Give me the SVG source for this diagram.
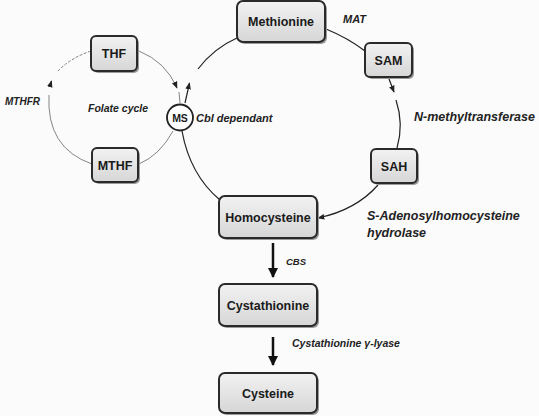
<svg xmlns="http://www.w3.org/2000/svg" width="539" height="416" viewBox="0 0 539 416">
<defs>
<linearGradient id="g" x1="0" y1="0" x2="0" y2="1">
<stop offset="0" stop-color="#f2f2f2"/>
<stop offset="1" stop-color="#d6d6d6"/>
</linearGradient>
<marker id="ah" viewBox="0 0 10 10" refX="9" refY="5" markerWidth="7" markerHeight="7" orient="auto" markerUnits="userSpaceOnUse">
<path d="M0,1 L10,5 L0,9 z" fill="#222"/>
</marker>
<marker id="ahb" viewBox="0 0 10 10" refX="9" refY="5" markerWidth="10" markerHeight="10" orient="auto" markerUnits="userSpaceOnUse">
<path d="M0,0 L10,5 L0,10 z" fill="#111"/>
</marker>
</defs>
<style>
.box rect.b{fill:url(#g);stroke:#2a2a2a;stroke-width:2}
.box rect.s{fill:#9a9a9a}
.nt{font-family:"Liberation Sans",Arial,sans-serif;font-weight:bold;font-size:12.5px;fill:#1a1a1a;text-anchor:middle}
.lb{font-family:"Liberation Sans",Arial,sans-serif;font-weight:bold;font-style:italic;fill:#222}
.thin{fill:none;stroke:#666;stroke-width:0.8}
.med{fill:none;stroke:#222;stroke-width:1.2}
.thick{fill:none;stroke:#111;stroke-width:2.5}
</style>
<rect width="539" height="416" fill="#fbfbfb"/>

<g id="connectors">
<path class="med" d="M326,29 Q348,38 365,51"/>
<path class="med" d="M389,79 L394,92" marker-end="url(#ah)"/>
<path class="med" d="M396,100 Q404,124 397,148"/>
<path class="med" d="M378,185 Q356,210 318,218" marker-end="url(#ah)"/>
<path class="med" d="M220,200 Q190,175 182,131"/>
<path class="med" d="M185,103 L189.5,83" marker-end="url(#ah)"/>
<path class="med" d="M198,69 Q214,48 237,38"/>
<path class="thin" d="M139,51 Q166,62 177,88" marker-end="url(#ah)"/>
<path class="thin" d="M179,92 L180,103"/>
<path class="thin" d="M139,164 Q160,155 173,131"/>
<path class="thin" d="M91,51 Q70,58 57,72" stroke-dasharray="3,1.5"/>
<path class="med" d="M50,86 L51.5,81" marker-end="url(#ah)"/>
<path class="thin" d="M49,95 Q46,148 92,164"/>
<path class="thick" d="M273,243 L273,277" marker-end="url(#ahb)"/>
<path class="thick" d="M273,337 L273,365" marker-end="url(#ahb)"/>
</g>

<g id="n-methionine" class="box">
<rect class="s" x="239" y="3" width="88" height="41" rx="6"/>
<rect class="b" x="237" y="1" width="88" height="41" rx="6"/>
<text class="nt" x="281" y="26">Methionine</text>
</g>
<g id="n-sam" class="box">
<rect class="s" x="367" y="45" width="47" height="34" rx="5"/>
<rect class="b" x="365" y="43" width="47" height="34" rx="5"/>
<text class="nt" x="388.5" y="65">SAM</text>
</g>
<g id="n-sah" class="box">
<rect class="s" x="373" y="151" width="46" height="34" rx="5"/>
<rect class="b" x="371" y="149" width="46" height="34" rx="5"/>
<text class="nt" x="394" y="171">SAH</text>
</g>
<g id="n-homocysteine" class="box">
<rect class="s" x="221" y="198" width="98" height="42" rx="6"/>
<rect class="b" x="219" y="196" width="98" height="42" rx="6"/>
<text class="nt" x="268" y="221.5">Homocysteine</text>
</g>
<g id="n-cystathionine" class="box">
<rect class="s" x="221" y="286" width="98" height="42" rx="6"/>
<rect class="b" x="219" y="284" width="98" height="42" rx="6"/>
<text class="nt" x="268" y="309.5">Cystathionine</text>
</g>
<g id="n-cysteine" class="box">
<rect class="s" x="221" y="375" width="98" height="40" rx="6"/>
<rect class="b" x="219" y="373" width="98" height="40" rx="6"/>
<text class="nt" x="268" y="397.5">Cysteine</text>
</g>
<g id="n-thf" class="box">
<rect class="s" x="93" y="38" width="46" height="35" rx="5"/>
<rect class="b" x="91" y="36" width="46" height="35" rx="5"/>
<text class="nt" x="114" y="58">THF</text>
</g>
<g id="n-mthf" class="box">
<rect class="s" x="94" y="150" width="46" height="34" rx="5"/>
<rect class="b" x="92" y="148" width="46" height="34" rx="5"/>
<text class="nt" x="115" y="170">MTHF</text>
</g>
<g id="n-ms">
<circle cx="180" cy="117.5" r="13" fill="#fff" stroke="#222" stroke-width="1.8"/>
<text class="nt" x="180" y="121.5" style="font-size:10.5px">MS</text>
</g>

<g id="labels">
<text class="lb" x="343" y="23" font-size="11">MAT</text>
<text class="lb" x="414" y="120.5" font-size="12.5">N-methyltransferase</text>
<text class="lb" x="367" y="219.5" font-size="12.5">S-Adenosylhomocysteine</text>
<text class="lb" x="367" y="236.5" font-size="12.5">hydrolase</text>
<text class="lb" x="196" y="122" font-size="11">Cbl dependant</text>
<text class="lb" x="88" y="112" font-size="10.5">Folate cycle</text>
<text class="lb" x="5" y="105" font-size="10">MTHFR</text>
<text class="lb" x="286" y="265" font-size="9.5">CBS</text>
<text class="lb" x="292" y="346.5" font-size="10.5">Cystathionine γ-lyase</text>
</g>
</svg>
